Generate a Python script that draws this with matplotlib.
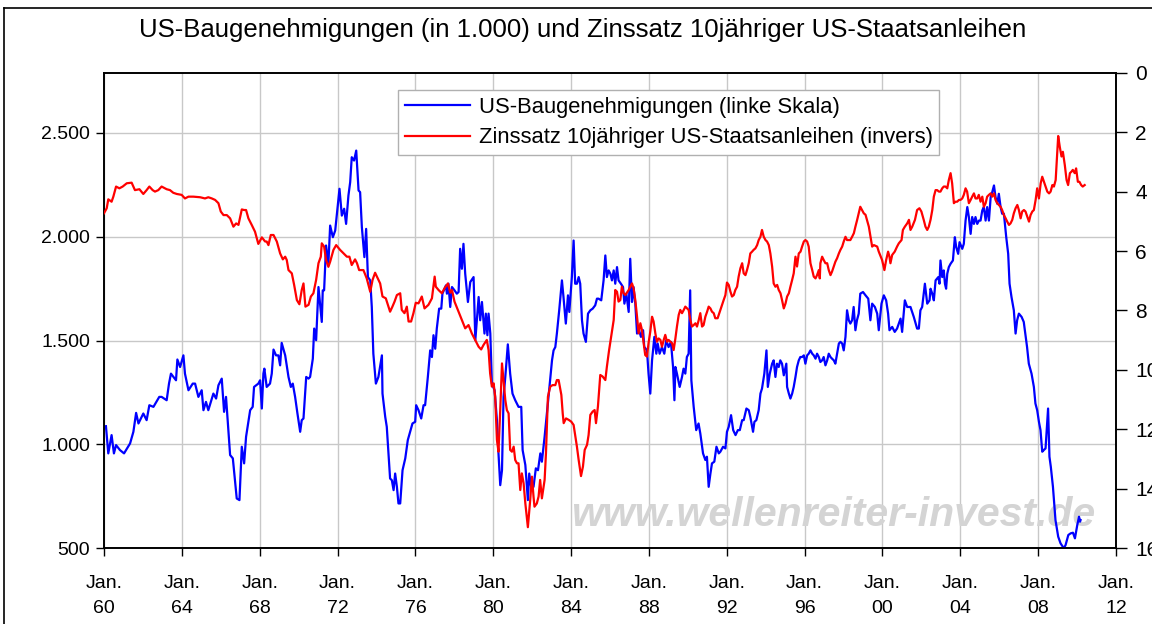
import matplotlib.pyplot as plt
from matplotlib.lines import Line2D
from matplotlib.ticker import FuncFormatter

plt.rcParams['font.family'] = ['Liberation Sans', 'DejaVu Sans']

# US-Baugenehmigungen (in 1.000)
permit_years = [
    1960.10, 1960.22, 1960.39, 1960.51, 1960.62, 1960.82, 1961.03, 1961.34, 1961.51, 1961.65,
    1961.77, 1962.02, 1962.19, 1962.33, 1962.54, 1962.84, 1962.96, 1963.22, 1963.34, 1963.44,
    1963.70, 1963.77, 1963.91, 1964.08, 1964.16, 1964.34, 1964.56, 1964.68, 1964.85, 1965.02,
    1965.11, 1965.24, 1965.36, 1965.62, 1965.76, 1965.88, 1966.05, 1966.17, 1966.27, 1966.39,
    1966.48, 1966.62, 1966.82, 1966.96, 1967.08, 1967.20, 1967.30, 1967.51, 1967.64, 1967.71,
    1967.93, 1968.02, 1968.11, 1968.19, 1968.24, 1968.36, 1968.53, 1968.62, 1968.71, 1968.84,
    1968.96, 1969.05, 1969.13, 1969.31, 1969.48, 1969.60, 1969.70, 1969.82, 1969.94, 1970.08,
    1970.16, 1970.25, 1970.39, 1970.51, 1970.59, 1970.73, 1970.80, 1970.90, 1971.02, 1971.19,
    1971.24, 1971.31, 1971.41, 1971.53, 1971.62, 1971.76, 1971.88, 1972.10, 1972.22, 1972.34,
    1972.44, 1972.56, 1972.65, 1972.73, 1972.85, 1972.96, 1973.08, 1973.16, 1973.25, 1973.38,
    1973.47, 1973.56, 1973.68, 1973.76, 1973.84, 1973.97, 1974.10, 1974.28, 1974.31, 1974.45,
    1974.53, 1974.70, 1974.79, 1974.88, 1974.96, 1975.05, 1975.13, 1975.22, 1975.34, 1975.48,
    1975.61, 1975.73, 1975.85, 1975.99, 1976.04, 1976.16, 1976.30, 1976.42, 1976.50, 1976.64,
    1976.76, 1976.85, 1976.93, 1977.02, 1977.10, 1977.22, 1977.33, 1977.39, 1977.50, 1977.57,
    1977.62, 1977.70, 1977.79, 1977.88, 1978.01, 1978.13, 1978.22, 1978.30, 1978.39, 1978.47,
    1978.56, 1978.70, 1978.82, 1978.99, 1979.08, 1979.16, 1979.25, 1979.33, 1979.42, 1979.55,
    1979.62, 1979.70, 1979.76, 1979.85, 1979.93, 1980.07, 1980.19, 1980.27, 1980.36, 1980.45,
    1980.53, 1980.62, 1980.75, 1980.87, 1980.99, 1981.13, 1981.30, 1981.44, 1981.51, 1981.65,
    1981.78, 1981.85, 1981.95, 1982.07, 1982.19, 1982.30, 1982.42, 1982.50, 1982.64, 1982.76,
    1982.84, 1983.02, 1983.10, 1983.19, 1983.27, 1983.39, 1983.53, 1983.61, 1983.73, 1983.84,
    1983.91, 1984.04, 1984.13, 1984.21, 1984.30, 1984.39, 1984.47, 1984.56, 1984.64, 1984.76,
    1984.87, 1984.99, 1985.11, 1985.24, 1985.33, 1985.41, 1985.55, 1985.67, 1985.76, 1985.84,
    1985.93, 1986.02, 1986.10, 1986.19, 1986.27, 1986.36, 1986.44, 1986.56, 1986.67, 1986.74,
    1986.84, 1986.96, 1987.04, 1987.13, 1987.21, 1987.30, 1987.39, 1987.47, 1987.59, 1987.70,
    1987.76, 1987.90, 1987.98, 1988.07, 1988.16, 1988.28, 1988.38, 1988.45, 1988.55, 1988.67,
    1988.79, 1988.89, 1989.01, 1989.13, 1989.24, 1989.31, 1989.36, 1989.44, 1989.58, 1989.70,
    1989.78, 1989.87, 1989.95, 1990.04, 1990.12, 1990.18, 1990.30, 1990.43, 1990.55, 1990.64,
    1990.78, 1990.90, 1990.98, 1991.07, 1991.16, 1991.24, 1991.36, 1991.47, 1991.59, 1991.67,
    1991.81, 1991.93, 1992.01, 1992.10, 1992.22, 1992.33, 1992.45, 1992.57, 1992.67, 1992.79,
    1992.87, 1993.01, 1993.13, 1993.21, 1993.35, 1993.42, 1993.52, 1993.64, 1993.73, 1993.81,
    1993.93, 1994.04, 1994.11, 1994.21, 1994.33, 1994.41, 1994.50, 1994.58, 1994.67, 1994.75,
    1994.84, 1994.93, 1995.06, 1995.10, 1995.19, 1995.27, 1995.36, 1995.44, 1995.53, 1995.61,
    1995.70, 1995.78, 1995.87, 1995.96, 1996.04, 1996.13, 1996.21, 1996.30, 1996.39, 1996.47,
    1996.56, 1996.64, 1996.73, 1996.81, 1996.90, 1996.98, 1997.07, 1997.16, 1997.24, 1997.33,
    1997.41, 1997.50, 1997.58, 1997.67, 1997.76, 1997.84, 1997.93, 1998.01, 1998.10, 1998.18,
    1998.27, 1998.35, 1998.44, 1998.52, 1998.61, 1998.69, 1998.78, 1998.86, 1999.00, 1999.13,
    1999.27, 1999.38, 1999.47, 1999.61, 1999.73, 1999.81, 1999.95, 2000.07, 2000.19, 2000.29,
    2000.36, 2000.50, 2000.63, 2000.75, 2000.93, 2001.01, 2001.15, 2001.27, 2001.44, 2001.61,
    2001.78, 2001.87, 2001.95, 2002.04, 2002.18, 2002.30, 2002.42, 2002.47, 2002.56, 2002.64,
    2002.73, 2002.87, 2002.93, 2002.98, 2003.07, 2003.15, 2003.21, 2003.27, 2003.33, 2003.41,
    2003.50, 2003.62, 2003.72, 2003.79, 2003.89, 2003.96, 2004.10, 2004.18, 2004.27, 2004.36,
    2004.44, 2004.53, 2004.61, 2004.70, 2004.78, 2004.87, 2004.96, 2005.04, 2005.13, 2005.21,
    2005.30, 2005.38, 2005.47, 2005.56, 2005.64, 2005.73, 2005.81, 2005.90, 2005.98, 2006.07,
    2006.15, 2006.24, 2006.36, 2006.46, 2006.53, 2006.63, 2006.75, 2006.84, 2006.92, 2007.01,
    2007.15, 2007.26, 2007.35, 2007.43, 2007.52, 2007.66, 2007.78, 2007.86, 2007.95, 2008.04,
    2008.12, 2008.21, 2008.29, 2008.38, 2008.51, 2008.58, 2008.65, 2008.76, 2008.89, 2009.03,
    2009.15, 2009.32, 2009.41, 2009.55, 2009.67, 2009.79, 2009.89, 2010.01, 2010.10, 2010.15,
    2010.18,
]
permits = [
    1088, 957, 1045, 957, 997, 973, 957, 1005, 1061, 1152,
    1101, 1149, 1117, 1189, 1181, 1229, 1229, 1213, 1293, 1341,
    1309, 1409, 1373, 1429, 1341, 1261, 1293, 1293, 1229, 1261,
    1165, 1205, 1165, 1245, 1221, 1285, 1317, 1157, 1229, 1069,
    949, 933, 740, 732, 989, 909, 1037, 1165, 1181, 1277,
    1293, 1309, 1173, 1341, 1365, 1277, 1293, 1341, 1457, 1429,
    1429, 1381, 1489, 1429, 1325, 1277, 1293, 1229, 1149, 1061,
    1117, 1125, 1325, 1317, 1325, 1413, 1558, 1502, 1758, 1590,
    1742, 1742, 1958, 1870, 2054, 1998, 2030, 2231, 2102, 2135,
    2062, 2199, 2263, 2383, 2367, 2415, 2223, 2215, 2046, 1902,
    2038, 1806, 1790, 1662, 1437, 1293, 1325, 1429, 1245, 1133,
    1085, 836, 828, 780, 860, 796, 716, 716, 876, 933,
    1021, 1061, 1101, 1109, 1189, 1165, 1125, 1189, 1189, 1325,
    1453, 1421, 1526, 1461, 1558, 1654, 1654, 1726, 1750, 1766,
    1726, 1774, 1662, 1758, 1742, 1726, 1734, 1942, 1846, 1966,
    1822, 1686, 1782, 1806, 1502, 1598, 1710, 1598, 1686, 1534,
    1630, 1526, 1630, 1534, 1293, 1261, 1117, 957, 804, 876,
    1229, 1325, 1482, 1341, 1245, 1213, 1181, 1181, 973, 901,
    732, 860, 796, 796, 885, 876, 957, 917, 1037, 1149,
    1229, 1405, 1453, 1469, 1534, 1646, 1790, 1710, 1582, 1718,
    1638, 1806, 1982, 1774, 1774, 1806, 1774, 1598, 1534, 1494,
    1630, 1646, 1654, 1670, 1702, 1702, 1694, 1790, 1910, 1806,
    1838, 1822, 1790, 1838, 1774, 1854, 1790, 1774, 1758, 1678,
    1726, 1638, 1894, 1686, 1758, 1678, 1534, 1558, 1518, 1550,
    1470, 1453, 1341, 1245, 1405, 1518, 1437, 1486, 1437, 1469,
    1437, 1502, 1469, 1494, 1373, 1213, 1373, 1341, 1277, 1325,
    1365, 1341, 1421, 1437, 1742, 1309, 1181, 1069, 1101, 1053,
    957, 925, 941, 796, 860, 909, 917, 989, 957, 965,
    989, 981, 1061, 1085, 1141, 1069, 1045, 1069, 1069, 1117,
    1117, 1173, 1165, 1133, 1061, 1109, 1117, 1165, 1245, 1269,
    1341, 1453, 1277, 1341, 1389, 1405, 1325, 1389, 1373, 1405,
    1389, 1333, 1389, 1277, 1245, 1221, 1245, 1277, 1325, 1373,
    1405, 1421, 1421, 1429, 1389, 1429, 1437, 1453, 1437, 1429,
    1413, 1437, 1421, 1397, 1405, 1421, 1381, 1405, 1437, 1421,
    1413, 1405, 1389, 1437, 1486, 1494, 1486, 1453, 1518, 1646,
    1598, 1582, 1598, 1662, 1550, 1598, 1630, 1726, 1734, 1718,
    1702, 1598, 1678, 1662, 1630, 1550, 1678, 1718, 1694, 1630,
    1550, 1566, 1542, 1558, 1606, 1542, 1694, 1662, 1662, 1614,
    1558, 1558, 1646, 1662, 1774, 1678, 1694, 1750, 1726, 1694,
    1790, 1806, 1774, 1886, 1806, 1838, 1774, 1750, 1822, 1854,
    1870, 1886, 1998, 1950, 1918, 1974, 1942, 1966, 2078, 2143,
    2095, 2014, 2095, 2062, 2095, 2062, 2078, 2078, 2127, 2143,
    2078, 2143, 2078, 2191, 2215, 2247, 2191, 2159, 2207, 2143,
    2111, 2111, 1998, 1918, 1774, 1710, 1646, 1534, 1598, 1630,
    1614, 1590, 1526, 1469, 1389, 1341, 1277, 1197, 1165, 1109,
    1069, 965, 973, 981, 1173, 941, 893, 796, 636, 556,
    524, 500, 516, 564, 572, 575, 548, 612, 652, 628,
    636,
]

# Zinssatz 10jaehriger US-Staatsanleihen in %
yield_years = [
    1960.00, 1960.14, 1960.22, 1960.39, 1960.48, 1960.62, 1960.79, 1960.96, 1961.17, 1961.42,
    1961.59, 1961.82, 1962.02, 1962.19, 1962.33, 1962.50, 1962.62, 1962.79, 1962.96, 1963.22,
    1963.39, 1963.56, 1963.74, 1963.99, 1964.16, 1964.34, 1964.59, 1964.94, 1965.19, 1965.36,
    1965.54, 1965.71, 1965.88, 1966.00, 1966.14, 1966.31, 1966.48, 1966.65, 1966.79, 1966.91,
    1967.08, 1967.20, 1967.30, 1967.42, 1967.59, 1967.76, 1967.93, 1968.11, 1968.28, 1968.36,
    1968.45, 1968.57, 1968.71, 1968.88, 1969.05, 1969.19, 1969.31, 1969.39, 1969.48, 1969.65,
    1969.77, 1969.91, 1970.04, 1970.16, 1970.25, 1970.35, 1970.51, 1970.63, 1970.76, 1970.90,
    1971.02, 1971.14, 1971.19, 1971.31, 1971.41, 1971.53, 1971.62, 1971.79, 1971.93, 1972.13,
    1972.31, 1972.48, 1972.61, 1972.73, 1972.90, 1973.00, 1973.11, 1973.33, 1973.50, 1973.68,
    1973.80, 1973.93, 1974.07, 1974.19, 1974.31, 1974.48, 1974.70, 1974.82, 1974.93, 1975.05,
    1975.22, 1975.30, 1975.44, 1975.56, 1975.65, 1975.78, 1975.90, 1976.02, 1976.16, 1976.33,
    1976.47, 1976.67, 1976.85, 1976.99, 1977.05, 1977.19, 1977.36, 1977.50, 1977.67, 1977.79,
    1977.88, 1978.01, 1978.22, 1978.39, 1978.56, 1978.73, 1978.90, 1979.07, 1979.25, 1979.38,
    1979.50, 1979.67, 1979.76, 1979.84, 1979.93, 1980.02, 1980.10, 1980.19, 1980.27, 1980.36,
    1980.45, 1980.53, 1980.62, 1980.70, 1980.79, 1980.87, 1980.96, 1981.05, 1981.13, 1981.22,
    1981.30, 1981.39, 1981.47, 1981.56, 1981.65, 1981.78, 1981.90, 1981.99, 1982.07, 1982.12,
    1982.24, 1982.33, 1982.41, 1982.50, 1982.64, 1982.71, 1982.81, 1982.93, 1983.05, 1983.19,
    1983.27, 1983.36, 1983.50, 1983.57, 1983.62, 1983.74, 1983.88, 1984.01, 1984.13, 1984.22,
    1984.30, 1984.39, 1984.51, 1984.61, 1984.70, 1984.82, 1984.90, 1984.99, 1985.11, 1985.21,
    1985.28, 1985.38, 1985.50, 1985.62, 1985.76, 1985.84, 1985.95, 1986.19, 1986.27, 1986.36,
    1986.44, 1986.53, 1986.61, 1986.70, 1986.79, 1986.96, 1987.13, 1987.21, 1987.30, 1987.39,
    1987.47, 1987.56, 1987.64, 1987.73, 1987.81, 1987.90, 1987.98, 1988.07, 1988.16, 1988.24,
    1988.33, 1988.41, 1988.50, 1988.59, 1988.67, 1988.76, 1988.84, 1988.93, 1989.01, 1989.10,
    1989.19, 1989.27, 1989.36, 1989.44, 1989.53, 1989.61, 1989.70, 1989.79, 1989.87, 1990.04,
    1990.13, 1990.21, 1990.30, 1990.39, 1990.47, 1990.56, 1990.64, 1990.73, 1990.81, 1990.90,
    1990.99, 1991.07, 1991.16, 1991.24, 1991.33, 1991.41, 1991.53, 1991.67, 1991.76, 1991.84,
    1991.93, 1992.01, 1992.10, 1992.19, 1992.27, 1992.36, 1992.44, 1992.53, 1992.61, 1992.70,
    1992.79, 1992.87, 1992.96, 1993.04, 1993.13, 1993.21, 1993.30, 1993.38, 1993.47, 1993.56,
    1993.64, 1993.73, 1993.81, 1993.90, 1993.99, 1994.07, 1994.16, 1994.24, 1994.33, 1994.41,
    1994.50, 1994.59, 1994.67, 1994.76, 1994.84, 1994.93, 1995.02, 1995.10, 1995.19, 1995.27,
    1995.36, 1995.44, 1995.53, 1995.61, 1995.70, 1995.79, 1995.87, 1995.96, 1996.04, 1996.13,
    1996.21, 1996.30, 1996.39, 1996.47, 1996.56, 1996.64, 1996.73, 1996.78, 1996.81, 1996.90,
    1996.98, 1997.07, 1997.16, 1997.24, 1997.33, 1997.41, 1997.50, 1997.58, 1997.67, 1997.76,
    1997.84, 1997.93, 1998.01, 1998.10, 1998.18, 1998.27, 1998.35, 1998.44, 1998.53, 1998.61,
    1998.70, 1998.78, 1998.86, 1998.95, 1999.04, 1999.13, 1999.30, 1999.47, 1999.56, 1999.73,
    1999.81, 1999.98, 2000.10, 2000.19, 2000.29, 2000.36, 2000.41, 2000.50, 2000.63, 2000.75,
    2000.84, 2000.98, 2001.05, 2001.15, 2001.27, 2001.36, 2001.44, 2001.53, 2001.67, 2001.78,
    2001.90, 2002.00, 2002.12, 2002.21, 2002.30, 2002.38, 2002.47, 2002.56, 2002.64, 2002.73,
    2002.81, 2002.90, 2002.98, 2003.07, 2003.15, 2003.24, 2003.33, 2003.41, 2003.50, 2003.58,
    2003.67, 2003.75, 2003.84, 2003.93, 2004.01, 2004.10, 2004.18, 2004.27, 2004.35, 2004.44,
    2004.53, 2004.61, 2004.70, 2004.78, 2004.87, 2004.95, 2005.04, 2005.13, 2005.21, 2005.30,
    2005.38, 2005.47, 2005.56, 2005.64, 2005.73, 2005.81, 2005.90, 2005.98, 2006.07, 2006.15,
    2006.24, 2006.33, 2006.41, 2006.50, 2006.58, 2006.67, 2006.75, 2006.84, 2006.93, 2007.01,
    2007.10, 2007.18, 2007.27, 2007.35, 2007.44, 2007.53, 2007.61, 2007.70, 2007.78, 2007.87,
    2007.95, 2008.04, 2008.13, 2008.21, 2008.30, 2008.38, 2008.47, 2008.56, 2008.64, 2008.73,
    2008.81, 2008.90, 2008.98, 2009.03, 2009.11, 2009.20, 2009.27, 2009.37, 2009.46, 2009.54,
    2009.63, 2009.71, 2009.78, 2009.88, 2009.95, 2010.04, 2010.12, 2010.21, 2010.29, 2010.39,
]
yields = [
    4.73, 4.56, 4.26, 4.34, 4.17, 3.83, 3.89, 3.83, 3.72, 3.70,
    3.95, 3.92, 4.08, 3.95, 3.83, 3.95, 4.00, 3.95, 3.83, 3.92,
    3.95, 4.04, 4.08, 4.11, 4.23, 4.17, 4.17, 4.19, 4.23, 4.19,
    4.23, 4.28, 4.39, 4.67, 4.79, 4.79, 4.90, 5.18, 5.07, 5.12,
    4.60, 4.62, 4.62, 4.90, 5.12, 5.35, 5.76, 5.54, 5.68, 5.68,
    5.80, 5.46, 5.46, 5.68, 6.08, 6.28, 6.19, 6.30, 6.64, 6.75,
    7.14, 7.65, 7.79, 7.31, 7.09, 7.87, 7.81, 7.53, 7.42, 6.97,
    6.41, 6.19, 5.74, 5.85, 6.30, 6.53, 6.36, 5.96, 5.80, 5.96,
    6.08, 6.19, 6.19, 6.47, 6.28, 6.41, 6.64, 6.64, 6.92, 7.37,
    6.97, 6.73, 6.92, 7.09, 7.53, 7.59, 8.04, 7.87, 7.70, 7.48,
    7.42, 7.98, 8.09, 7.87, 8.37, 8.37, 8.09, 7.74, 7.76, 7.53,
    7.93, 7.81, 7.59, 6.86, 7.20, 7.31, 7.42, 7.25, 7.09, 7.40,
    7.31, 7.70, 8.04, 8.32, 8.60, 8.49, 8.77, 8.99, 9.22, 9.31,
    9.16, 8.99, 9.33, 10.11, 10.56, 10.45, 10.90, 12.35, 12.75, 11.35,
    9.78, 10.34, 11.01, 11.35, 11.46, 12.69, 12.75, 12.58, 13.03, 13.14,
    13.14, 14.04, 13.48, 13.81, 14.49, 15.29, 14.37, 13.59, 14.26, 14.60,
    14.49, 14.26, 13.70, 14.32, 13.70, 12.80, 10.90, 10.56, 10.51, 10.51,
    10.34, 10.34, 10.84, 11.46, 11.79, 11.63, 11.68, 11.74, 11.85, 12.24,
    12.58, 13.03, 13.57, 13.25, 12.69, 12.52, 12.19, 11.51, 11.40, 11.35,
    11.79, 11.23, 10.17, 10.22, 10.34, 9.89, 9.35, 8.32, 7.31, 7.37,
    7.70, 7.65, 7.20, 7.42, 7.48, 7.31, 7.09, 7.25, 7.65, 8.21,
    8.77, 8.43, 8.65, 9.10, 9.50, 9.55, 9.10, 8.71, 8.21, 8.37,
    8.77, 9.05, 8.94, 8.99, 9.22, 8.99, 8.82, 9.05, 8.99, 9.05,
    9.10, 9.33, 8.94, 8.54, 8.15, 7.98, 8.09, 7.98, 7.87, 7.98,
    8.32, 8.54, 8.49, 8.43, 8.54, 8.32, 8.09, 8.54, 8.49, 8.21,
    8.04, 7.87, 7.93, 8.04, 8.09, 8.26, 8.26, 7.98, 7.81, 7.65,
    7.48, 7.06, 7.14, 7.37, 7.53, 7.48, 7.31, 7.20, 6.86, 6.58,
    6.41, 6.75, 6.81, 6.64, 6.41, 6.08, 6.02, 5.96, 5.91, 5.80,
    5.63, 5.52, 5.29, 5.52, 5.63, 5.68, 5.80, 6.08, 6.52, 7.09,
    7.20, 7.14, 7.31, 7.42, 7.65, 7.93, 7.76, 7.53, 7.42, 7.20,
    6.97, 6.75, 6.19, 6.52, 6.08, 6.02, 5.85, 5.68, 5.63, 5.68,
    5.85, 6.41, 6.64, 6.86, 6.92, 6.81, 6.64, 6.92, 6.41, 6.19,
    6.30, 6.41, 6.41, 6.64, 6.81, 6.69, 6.52, 6.36, 6.24, 6.08,
    5.96, 5.85, 5.68, 5.52, 5.63, 5.63, 5.63, 5.52, 5.40, 5.18,
    4.95, 4.73, 4.51, 4.62, 4.73, 4.78, 5.18, 5.85, 5.80, 5.85,
    6.02, 6.30, 6.64, 6.30, 6.02, 6.19, 6.41, 6.13, 6.02, 5.85,
    5.74, 5.63, 5.29, 5.18, 5.07, 4.95, 5.29, 5.18, 4.95, 4.62,
    4.56, 4.67, 4.95, 5.18, 5.29, 5.18, 4.95, 4.62, 4.17, 3.95,
    3.95, 4.00, 4.00, 3.89, 3.83, 3.83, 3.89, 3.61, 3.38, 3.72,
    4.39, 4.34, 4.34, 4.28, 4.28, 4.23, 4.11, 3.89, 4.00, 4.39,
    4.28, 4.17, 4.06, 4.23, 4.23, 4.11, 4.34, 4.17, 4.51, 4.39,
    4.17, 4.11, 4.06, 4.17, 4.06, 4.28, 4.39, 4.45, 4.51, 4.62,
    4.79, 4.90, 5.01, 5.12, 5.07, 4.95, 4.73, 4.56, 4.45, 4.62,
    4.90, 4.67, 4.62, 4.67, 4.84, 5.01, 4.79, 4.67, 4.62, 4.28,
    3.89, 4.23, 3.72, 3.50, 3.67, 3.83, 4.00, 4.06, 4.00, 3.78,
    3.83, 3.61, 2.71, 2.13, 2.49, 2.82, 2.66, 3.11, 3.61, 3.78,
    3.38, 3.33, 3.27, 3.38, 3.22, 3.67, 3.67, 3.78, 3.83, 3.78,
]

tick_years = list(range(1960, 2013, 4))
tick_labels = ['Jan.\n' + str(y)[2:] for y in tick_years]
left_ticks = [500, 1000, 1500, 2000, 2500]
right_ticks = list(range(0, 17, 2))

fig = plt.figure(figsize=(11.52, 6.24), dpi=100)
ax = fig.add_axes([104 / 1152, 1 - 548.3 / 624, (1116 - 104) / 1152, (548.3 - 72.7) / 624])
ax2 = ax.twinx()

line1, = ax.plot(permit_years, permits, color='#0000ff', lw=1.6, zorder=3,
                 label='US-Baugenehmigungen (linke Skala)')
line2, = ax2.plot(yield_years, yields, color='#ff0000', lw=1.6, zorder=3,
                  label='Zinssatz 10jähriger US-Staatsanleihen (invers)')

ax.set_xlim(1960, 2012)
ax.set_ylim(500, 2790)
ax2.set_ylim(16, 0)

ax.set_xticks(tick_years)
ax.set_xticklabels(tick_labels, fontsize=14, linespacing=1.65)
ax.set_yticks(left_ticks)
ax.yaxis.set_major_formatter(FuncFormatter(lambda v, p: f'{int(v):,}'.replace(',', '.')))
ax2.set_yticks(right_ticks)

ax.tick_params(axis='x', direction='out', length=6, width=1, pad=13, colors='black')
ax.tick_params(axis='y', direction='out', length=6, width=1, pad=4, labelsize=14)
ax2.tick_params(axis='y', direction='out', length=8, width=1, pad=6, labelsize=15)

ax.grid(True, color='#c8c8c8', lw=1)
ax.set_axisbelow(True)
for a in (ax, ax2):
    for s in a.spines.values():
        s.set_color('black')
        s.set_linewidth(1.2)

ax.text((1095 - 104) / 1012, 0.07, 'www.wellenreiter-invest.de', transform=ax.transAxes,
        ha='right', va='center', fontsize=29.5, style='italic', fontweight='bold',
        color='#d4d4d4', zorder=1)

fig.text(583 / 1152, 1 - 30 / 624, 'US-Baugenehmigungen (in 1.000) und Zinssatz 10jähriger US-Staatsanleihen',
         ha='center', va='center', fontsize=18.5)

leg = ax2.legend(handles=[line1, line2], loc='upper left',
                 bbox_to_anchor=(398 / 1152, 1 - 90 / 624), bbox_transform=fig.transFigure,
                 borderaxespad=0, fontsize=15.8, handlelength=3.0, handletextpad=0.37,
                 labelspacing=0.45, fancybox=False, framealpha=1, edgecolor='#b0b0b0',
                 borderpad=0.3)
leg.get_frame().set_linewidth(1)

# chart border (left and top edges visible in the cropped reference)
fig.add_artist(Line2D([4 / 1152, 4 / 1152], [0, 1 - 8 / 624], transform=fig.transFigure,
                      color='black', lw=1.2))
fig.add_artist(Line2D([4 / 1152, 1], [1 - 8 / 624, 1 - 8 / 624], transform=fig.transFigure,
                      color='black', lw=1.2))

fig.savefig('out.png', dpi=100, facecolor='white')
